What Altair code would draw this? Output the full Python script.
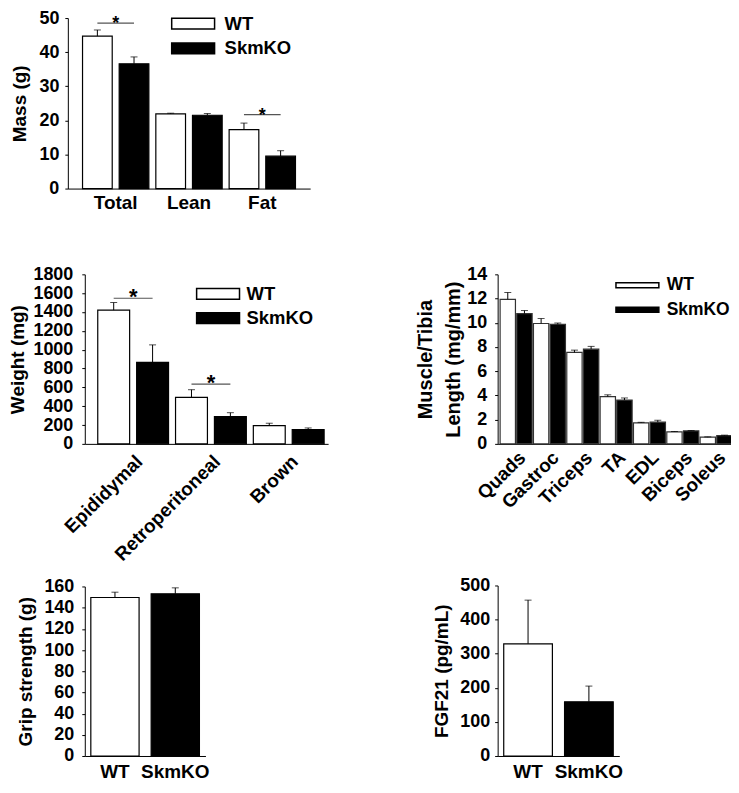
import altair as alt
import pandas as pd

FONT = "Liberation Sans"
groups = ["WT", "SkmKO"]

# ---- Panel A: body composition ----
cats_A = ["Total", "Lean", "Fat"]
wt_A = [44.7, 21.9, 17.3]
wt_err_A = [1.8, 0.2, 1.9]
ko_A = [36.6, 21.5, 9.5]
ko_err_A = [2.0, 0.5, 1.6]
sig_cats_A = ["Total", "Fat"]
sig_y_A = [48.5, 21.7]

# ---- Panel B: fat pad weights ----
cats_B = ["Epididymal", "Retroperitoneal", "Brown"]
wt_B = [1420, 494, 194]
wt_err_B = [80, 81, 25]
ko_B = [865, 289, 151]
ko_err_B = [186, 42, 18]
sig_cats_B = ["Epididymal", "Retroperitoneal"]
sig_y_B = [1546, 635]

# ---- Panel C: muscle / tibia length ----
cats_C = ["Quads", "Gastroc", "Triceps", "TA", "EDL", "Biceps", "Soleus"]
wt_C = [11.94, 9.94, 7.55, 3.90, 1.73, 0.99, 0.55]
wt_err_C = [0.56, 0.41, 0.19, 0.15, 0.05, 0.03, 0.03]
ko_C = [10.76, 9.86, 7.82, 3.62, 1.79, 1.07, 0.68]
ko_err_C = [0.25, 0.12, 0.23, 0.17, 0.16, 0.03, 0.04]

# ---- Panel D: grip strength ----
grip = [149.6, 153.1]
grip_err = [5.0, 5.6]

# ---- Panel E: FGF21 ----
fgf = [329, 159]
fgf_err = [128, 46]


def long_df(cats, wt, wt_err, ko, ko_err):
    rows = []
    for c, v, e in zip(cats, wt, wt_err):
        rows.append({"cat": c, "g": "WT", "v": v, "hi": v + e})
    for c, v, e in zip(cats, ko, ko_err):
        rows.append({"cat": c, "g": "SkmKO", "v": v, "hi": v + e})
    return pd.DataFrame(rows)


def sig_df(cats, ys):
    rows = []
    for c, y in zip(cats, ys):
        for g in groups:
            rows.append({"cat": c, "g": g, "sy": y})
    return pd.DataFrame(rows)


def y_axis(title, vals, lpad, tfs=19, tpad=8, offset=0):
    return alt.Axis(title=title, values=vals, labelPadding=lpad, tickSize=3,
                    titlePadding=tpad, titleFontSize=tfs, format="d", offset=offset)


def make_legend(x, y, path, lo, fs=18.5, rp=5.5):
    return alt.Legend(orient="none", legendX=x, legendY=y, title=None,
                      symbolType=path, symbolSize=115.6, symbolStrokeColor="black",
                      symbolStrokeWidth=1.5, labelOffset=lo, labelFontSize=fs,
                      labelFontWeight="bold", labelFont=FONT, labelColor="black",
                      rowPadding=rp, padding=0)


def grouped_panel(df, sdf, cats, ymax, width, height, yaxis, xpo, xalign,
                  opi, opo, angle, xlpad, legend, star_size=20, xrange=None,
                  bar_stroke="black"):
    sc = dict(paddingInner=0, paddingOuter=xpo, align=xalign)
    if xrange is not None:
        sc["range"] = xrange
    xs = alt.Scale(**sc)
    if angle == 0:
        xax = alt.Axis(title=None, labelAngle=0, ticks=False, labelPadding=xlpad,
                       labelFontSize=19)
    else:
        xax = alt.Axis(title=None, labelAngle=angle, ticks=False, labelPadding=xlpad,
                       labelFontSize=19, labelAlign="right", labelBaseline="top")
    x = alt.X("cat:N", sort=cats, scale=xs, axis=xax)
    xo = alt.XOffset("g:N", sort=groups,
                     scale=alt.Scale(paddingInner=opi, paddingOuter=opo))
    ys = alt.Scale(domain=[0, ymax], nice=False)
    base = alt.Chart(df)
    bars = base.mark_bar(stroke=bar_stroke, strokeWidth=1.2).encode(
        x=x, xOffset=xo,
        y=alt.Y("v:Q", scale=ys, axis=yaxis),
        fill=alt.Fill("g:N", sort=groups,
                      scale=alt.Scale(domain=groups, range=["white", "black"]),
                      legend=legend),
    )
    err = base.mark_rule(color="black", strokeWidth=1).encode(
        x=x, xOffset=xo, y=alt.Y("v:Q", scale=ys, axis=yaxis), y2="hi:Q")
    cap = base.mark_tick(color="black", size=7, thickness=1).encode(
        x=x, xOffset=xo, y=alt.Y("hi:Q", scale=ys, axis=yaxis))
    layers = [bars, err, cap]
    if sdf is not None:
        sline = alt.Chart(sdf).mark_line(color="#555555", strokeWidth=1.2).encode(
            x=x, xOffset=xo, y=alt.Y("sy:Q", scale=ys, axis=yaxis), detail="cat:N")
        star = alt.Chart(sdf[sdf["g"] == "WT"]).mark_text(
            text="*", fontSize=star_size, fontWeight="bold", font=FONT,
            baseline="alphabetic", dy=6, color="black").encode(
            x=x, y=alt.Y("sy:Q", scale=ys, axis=yaxis))
        layers += [sline, star]
    return alt.layer(*layers).properties(width=width, height=height)


def pair_panel(vals, errs, ymax, width, height, yrange, yaxis):
    df = pd.DataFrame({"g": groups, "v": vals,
                       "hi": [v + e for v, e in zip(vals, errs)]})
    xs = alt.Scale(paddingInner=0.2, paddingOuter=0.1)
    x = alt.X("g:N", sort=groups, scale=xs,
              axis=alt.Axis(title=None, labelAngle=0, ticks=False, labelPadding=7,
                            labelFontSize=19))
    ys = alt.Scale(domain=[0, ymax], nice=False, range=yrange)
    base = alt.Chart(df)
    bars = base.mark_bar(stroke="black", strokeWidth=1.2).encode(
        x=x, y=alt.Y("v:Q", scale=ys, axis=yaxis),
        fill=alt.Fill("g:N", sort=groups,
                      scale=alt.Scale(domain=groups, range=["white", "black"]),
                      legend=None))
    err = base.mark_rule(color="black", strokeWidth=1).encode(
        x=x, y=alt.Y("v:Q", scale=ys, axis=yaxis), y2="hi:Q")
    cap = base.mark_tick(color="black", size=7, thickness=1).encode(
        x=x, y=alt.Y("hi:Q", scale=ys, axis=yaxis))
    return alt.layer(bars, err, cap).properties(width=width, height=height)


PATH_THICK = "M-4,-1H4V1H-4Z"
PATH_THIN = "M-4,-0.47H4V0.47H-4Z"

A = grouped_panel(long_df(cats_A, wt_A, wt_err_A, ko_A, ko_err_A),
                  sig_df(sig_cats_A, sig_y_A), cats_A, 50, 226, 171,
                  y_axis("Mass (g)", list(range(0, 51, 10)), 6, tpad=9, offset=17),
                  0.153, 0.5, 0.19, 0.095, 0, 5,
                  make_legend(99.4, -3.75, PATH_THICK, 22.3, rp=6), star_size=18,
                  xrange=[-17, 226])

B = grouped_panel(long_df(cats_B, wt_B, wt_err_B, ko_B, ko_err_B),
                  sig_df(sig_cats_B, sig_y_B), cats_B, 1800, 244, 170,
                  y_axis("Weight (mg)", list(range(0, 1801, 200)), 9, tpad=5),
                  0.064, 0.95, 0.18, 0.09, -45, 8,
                  make_legend(124.4, 10.25, PATH_THICK, 19.3), star_size=22)

C = grouped_panel(long_df(cats_C, wt_C, wt_err_C, ko_C, ko_err_C),
                  None, cats_C, 14, 236, 170,
                  y_axis(["Muscle/Tibia", "Length (mg/mm)"], list(range(0, 15, 2)), 8,
                         tfs=20, tpad=3),
                  0.03, 0.9, 0.08, 0.04, -45, 4,
                  make_legend(131.4, 2.25, PATH_THIN, 20.6, fs=17.5),
                  bar_stroke="#333333")

D = pair_panel(grip, grip_err, 160, 121, 227, [227, 57],
               y_axis("Grip strength (g)", list(range(0, 161, 20)), 8))
E = pair_panel(fgf, fgf_err, 500, 122, 227, [227, 56],
               y_axis("FGF21 (pg/mL)", list(range(0, 501, 100)), 5))

spacer = alt.Chart(pd.DataFrame({"s": [0]})).mark_point(opacity=0).properties(
    width=1, height=1)

chart = alt.concat(A, spacer, B, C, D, E, columns=2, bounds="flush",
                   spacing={"row": 86, "column": 170}).resolve_scale(
    fill="independent", xOffset="independent")

chart = chart.properties(padding={"left": 0, "top": 0, "right": -2, "bottom": -2}).configure(
    font=FONT
).configure_view(stroke=None).configure_axis(
    grid=False, domainColor="black", domainWidth=1, tickColor="black",
    labelFont=FONT, labelFontSize=18, labelFontWeight="bold", labelColor="black",
    titleFont=FONT, titleFontWeight="bold", titleColor="black", titleLineHeight=28,
).configure_axisY(titleAngle=-90)

chart.save("out.html", embed_options={"renderer": "svg", "actions": False})
